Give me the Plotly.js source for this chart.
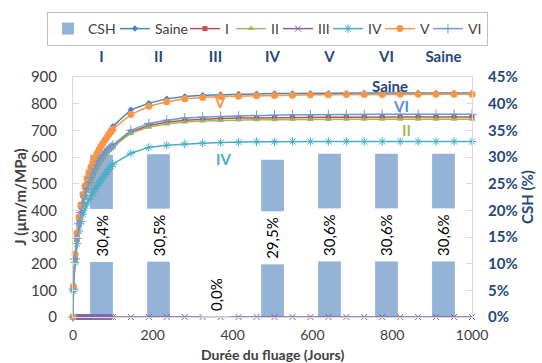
<!DOCTYPE html>
<html>
<head>
<meta charset="utf-8">
<script src="https://cdn.plot.ly/plotly-3.0.1.min.js"></script>
<style>html,body{margin:0;padding:0;background:#fff;}#chart{width:542px;height:363px;}</style>
</head>
<body>
<div id="chart"></div>
<script>
// ---- data ----
const categories = ['I', 'II', 'III', 'IV', 'V', 'VI', 'Saine'];
const csh = [0.304, 0.305, 0.000, 0.295, 0.306, 0.306, 0.306];

const days = [0, 1, 5, 10, 15, 20, 25, 30, 35, 40, 45, 50, 55, 60, 65, 70, 75, 80, 85, 90, 95, 100,
  145, 190, 235, 280, 325, 370, 415, 460, 505, 550, 595, 640, 685, 730, 775, 820, 865, 910, 955, 1000];

const jSaine = [0, 110, 225, 305, 365, 410, 450, 482, 512, 536, 557, 576, 594, 611, 627, 642, 655, 667, 679, 691, 703, 715,
  777, 802, 818, 827, 832, 834, 836, 837, 838, 838, 839, 839, 839, 840, 840, 840, 840, 840, 840, 840];
const jI = [0, 103, 215, 292, 346, 388, 423, 452, 478, 500, 519, 536, 552, 566, 579, 591, 602, 612, 621, 629, 636, 642,
  694, 718, 730, 738, 742, 744, 746, 747, 748, 748, 749, 749, 749, 750, 750, 750, 750, 750, 750, 750];
const jII = [0, 100, 212, 288, 342, 384, 418, 447, 472, 494, 513, 530, 546, 560, 573, 585, 596, 606, 615, 623, 630, 637,
  689, 712, 724, 731, 735, 737, 739, 740, 740, 741, 741, 741, 742, 742, 742, 742, 742, 742, 742, 742];
const jIII = [0, 0, 0, 0, 0, 0, 0, 0, 0, 0, 0, 0, 0, 0, 0, 0, 0, 0, 0, 0, 0, 0,
  0, 0, 0, 0, 0, 0, 0, 0, 0, 0, 0, 0, 0, 0, 0, 0, 0, 0, 0, 0];
const jIV = [0, 98, 205, 275, 322, 358, 385, 405, 423, 440, 455, 468, 480, 492, 503, 514, 524, 534, 544, 554, 564, 573,
  614, 636, 644, 649, 652, 654, 656, 657, 657, 658, 658, 658, 658, 658, 658, 658, 658, 658, 658, 658];
const jV = [0, 115, 235, 315, 375, 420, 460, 492, 520, 543, 563, 581, 598, 613, 627, 640, 652, 663, 674, 685, 695, 705,
  759, 790, 807, 818, 823, 827, 828, 830, 831, 832, 833, 833, 834, 834, 834, 835, 835, 835, 835, 835];
const jVI = [0, 105, 218, 295, 350, 392, 427, 456, 482, 504, 523, 540, 556, 570, 583, 595, 606, 616, 625, 633, 639, 645,
  700, 726, 738, 746, 750, 752, 754, 756, 757, 758, 758, 759, 759, 759, 760, 760, 760, 760, 760, 760];

// ---- styling ----
const FONT = 'Lato, "Open Sans", sans-serif';
const DARKBLUE = '#1F497D';
const GREY = '#404040';
const AXC = '#D9D9D9';

const seriesDefs = [
  {name: 'Saine', y: jSaine, color: '#4F81BD', symbol: 'diamond', size: 5, lw: 0, lgw: 25},
  {name: 'I', y: jI, color: '#C0504D', symbol: 'square', size: 5, lw: 0, lgw: 1},
  {name: 'II', y: jII, color: '#9BBB59', symbol: 'triangle-up', size: 6, lw: 0, lgw: 2},
  {name: 'III', y: jIII, color: '#8064A2', symbol: 'x-thin-open', size: 6, lw: 1, lgw: 5},
  {name: 'IV', y: jIV, color: '#4BACC6', symbol: 'asterisk-open', size: 7, lw: 1, lgw: 7},
  {name: 'V', y: jV, color: '#F79646', symbol: 'circle', size: 7, lw: 0, lgw: 3},
  {name: 'VI', y: jVI, color: '#6A9BD8', symbol: 'cross-thin-open', size: 7, lw: 1, lgw: 14}
];

const traces = [{
  type: 'bar', name: 'CSH', x: categories, y: csh, xaxis: 'x', yaxis: 'y',
  width: 0.4, marker: {color: '#95B3D7'}, hoverinfo: 'skip', legendwidth: 22
}];
seriesDefs.forEach(s => traces.push({
  type: 'scatter', mode: 'lines+markers', name: s.name, x: days, y: s.y,
  xaxis: 'x2', yaxis: 'y2', cliponaxis: false, legendwidth: s.lgw,
  line: {color: s.color, width: 1.5},
  marker: {symbol: s.symbol, size: s.size, color: s.color, line: {color: s.color, width: s.lw}},
  hoverinfo: 'skip'
}));

const annotations = csh.map((v, i) => ({
  x: categories[i], y: v / 2, xref: 'x', yref: 'y',
  text: (v * 100).toFixed(1).replace('.', ',') + '%',
  textangle: -90, showarrow: false, bgcolor: '#FFFFFF', borderpad: 5,
  yanchor: v > 0 ? 'middle' : 'bottom',
  font: {family: FONT, size: 15, color: '#000000'}
}));

const seriesLabels = [
  {text: 'Saine', x: 794, y: 865, color: DARKBLUE},
  {text: 'VI', x: 822, y: 790, color: '#558ED5'},
  {text: 'II', x: 835, y: 701, color: '#9BBB59'},
  {text: 'I', x: 1023, y: 753, color: '#C0504D'},
  {text: 'III', x: 1020, y: 40, color: '#8064A2'},
  {text: 'V', x: 368, y: 806, color: '#F79646'},
  {text: 'IV', x: 376, y: 592, color: '#4BACC6'}
];
seriesLabels.forEach(l => annotations.push({
  text: l.text, x: l.x, y: l.y, xref: 'x2', yref: 'y2', showarrow: false,
  font: {family: FONT, size: 15, color: l.color, weight: 'bold'}
}));

// x-axis title (placed as paper annotation so it can sit low like the original)
annotations.push({
  text: 'Durée du fluage (Jours)', xref: 'paper', yref: 'paper', x: 0.5, y: -0.156,
  xanchor: 'center', yanchor: 'middle', showarrow: false,
  font: {family: FONT, size: 14, color: GREY, weight: 'bold'}
});

const layout = {
  width: 542, height: 363,
  margin: {l: 73, r: 70, t: 77, b: 46},
  paper_bgcolor: '#FFFFFF', plot_bgcolor: 'rgba(0,0,0,0)',
  font: {family: FONT, size: 15, color: GREY},
  showlegend: true,
  legend: {
    orientation: 'h', x: 1.04, xanchor: 'right', y: 1.2708, yanchor: 'top',
    bordercolor: '#BFBFBF', borderwidth: 1, font: {family: FONT, size: 14, color: GREY},
    itemwidth: 30, traceorder: 'normal'
  },
  xaxis: {
    type: 'category', side: 'top', range: [-0.5, 6.5],
    showline: true, linecolor: AXC, ticks: '', showgrid: false, zeroline: false,
    tickfont: {family: FONT, size: 15, color: DARKBLUE, weight: 'bold'},
    ticklabelstandoff: 8, fixedrange: true
  },
  yaxis: {
    side: 'right', range: [0, 0.45], dtick: 0.05, tickformat: '.0%',
    showline: true, linecolor: AXC, ticks: 'inside', ticklen: 6, tickcolor: AXC,
    showgrid: false, zeroline: false,
    tickfont: {family: FONT, size: 15, color: DARKBLUE, weight: 'bold'},
    ticklabelstandoff: 12,
    title: {text: 'CSH (%)', font: {family: FONT, size: 15, color: DARKBLUE, weight: 'bold'}, standoff: 4}
  },
  xaxis2: {
    overlaying: 'x', side: 'bottom', range: [0, 1000], dtick: 200,
    showline: true, linecolor: AXC, ticks: '', showgrid: false, zeroline: false,
    tickfont: {family: FONT, size: 14, color: GREY},
    ticklabelstandoff: 5
  },
  yaxis2: {
    overlaying: 'y', side: 'left', range: [0, 900], dtick: 100,
    showline: true, linecolor: AXC, ticks: 'inside', ticklen: 6, tickcolor: AXC,
    showgrid: false, zeroline: false,
    tickfont: {family: FONT, size: 15, color: GREY},
    ticklabelstandoff: 12,
    title: {text: 'J (µm/m/MPa)', font: {family: FONT, size: 15, color: GREY, weight: 'bold'}, standoff: 0}
  },
  annotations: annotations
};

Plotly.newPlot('chart', traces, layout, {staticPlot: true, displayModeBar: false});
</script>
</body>
</html>
